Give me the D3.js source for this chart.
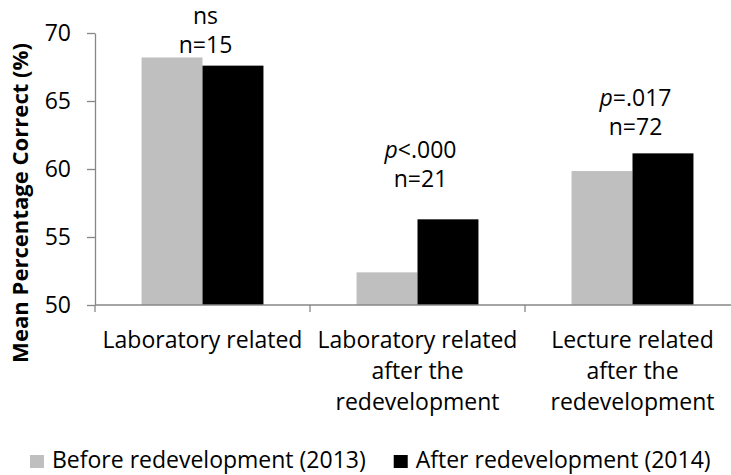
<!DOCTYPE html>
<html>
<head>
<meta charset="utf-8">
<script src="https://cdn.jsdelivr.net/npm/d3@7"></script>
<style>
  body { margin: 0; background: #fff; }
  svg { display: block; font-family: "Open Sans", sans-serif; }
  .axis path, .axis line { stroke: #878787; stroke-width: 1.3; }
  .axis text { font-size: 23px; fill: #000; font-family: "Open Sans", sans-serif; }
  .lbl { font-size: 23px; fill: #000; }
</style>
</head>
<body>
<svg id="chart" width="731" height="475"></svg>
<script>
// chart data
var categories = [
    ["Laboratory related"],
    ["Laboratory related", "after the", "redevelopment"],
    ["Lecture related", "after the", "redevelopment"]
];
var seriesNames = ["Before redevelopment (2013)", "After redevelopment (2014)"];
var before2013 = [68.2, 52.4, 59.85];
var after2014 = [67.6, 56.3, 61.15];
var pLabels = ["ns", "<.000", "=.017"];
var nLabels = ["n=15", "n=21", "n=72"];
var annotAt = [69.1, 59.3, 63.1];   // value where the n= line sits
var yTicks = [50, 55, 60, 65, 70];
var colors = ["#bfbfbf", "#000000"];

var svg = d3.select('#chart');
var margin = {left: 95, top: 33, bottom: 305, right: 740};

var y = d3.scaleLinear().domain([50, 70]).range([margin.bottom, margin.top]);
var gap = 0.433;
var x = d3.scaleBand()
    .domain(d3.range(categories.length))
    .range([margin.left, margin.right])
    .paddingInner(gap)
    .paddingOuter(gap / 2);
var xs = d3.scaleBand().domain([0, 1]).range([0, x.bandwidth()]);

// y axis
svg.append('g')
    .attr('class', 'axis')
    .attr('transform', 'translate(' + margin.left + ',0)')
    .call(d3.axisLeft(y).tickValues(yTicks).tickSize(8).tickPadding(16).tickSizeOuter(0));

// bars
var groups = svg.selectAll('g.grp')
    .data(categories)
    .enter()
    .append('g')
    .attr('class', 'grp')
    .attr('transform', function(d, i) { return 'translate(' + x(i) + ',0)'; });

groups.selectAll('rect')
    .data(function(d, i) { return [before2013[i], after2014[i]]; })
    .enter()
    .append('rect')
    .attr('x', function(d, j) { return xs(j); })
    .attr('y', function(d) { return y(d); })
    .attr('width', xs.bandwidth())
    .attr('height', function(d) { return y(50) - y(d); })
    .attr('fill', function(d, j) { return colors[j]; });

// x axis line + ticks at category boundaries
var xAxis = svg.append('g').attr('class', 'axis');
xAxis.append('line')
    .attr('x1', margin.left).attr('x2', margin.right)
    .attr('y1', y(50)).attr('y2', y(50));
xAxis.selectAll('line.tk')
    .data(d3.range(categories.length + 1))
    .enter()
    .append('line')
    .attr('class', 'tk')
    .attr('x1', function(i) { return margin.left + i * x.step(); })
    .attr('x2', function(i) { return margin.left + i * x.step(); })
    .attr('y1', y(50)).attr('y2', y(50) + 7);

// category labels
var catText = svg.selectAll('text.cat')
    .data(categories)
    .enter()
    .append('text')
    .attr('class', 'lbl cat')
    .attr('text-anchor', 'middle');
catText.selectAll('tspan')
    .data(function(d, i) { return d.map(function(s) { return {s: s, i: i}; }); })
    .enter()
    .append('tspan')
    .attr('x', function(d) { return x(d.i) + x.bandwidth() / 2; })
    .attr('y', function(d, k) { return 348 + k * 31; })
    .text(function(d) { return d.s; });

// significance annotations
categories.forEach(function(c, i) {
    var cx = x(i) + x.bandwidth() / 2 + 3;
    var ny = y(annotAt[i]) + 8;
    var t = svg.append('text').attr('class', 'lbl').attr('text-anchor', 'middle')
        .attr('x', cx).attr('y', ny - 29);
    if (pLabels[i] == 'ns') {
        t.text('ns');
    } else {
        t.append('tspan').style('font-style', 'italic').text('p');
        t.append('tspan').text(pLabels[i]);
    }
    svg.append('text').attr('class', 'lbl').attr('text-anchor', 'middle')
        .attr('x', cx).attr('y', ny).text(nLabels[i]);
});

// y title, sized to span about 320px like the original
var title = svg.append('text')
    .attr('transform', 'translate(28,203) rotate(-90)')
    .attr('text-anchor', 'middle')
    .style('font-weight', 'bold')
    .style('font-size', '20px')
    .text('Mean Percentage Correct (%)');
var tl = title.node().getComputedTextLength();
title.style('font-size', (20 * 320 / tl) + 'px');

// legend
var items = svg.append('g').selectAll('g')
    .data(seriesNames)
    .enter()
    .append('g');
items.append('rect')
    .attr('width', 14).attr('height', 13)
    .attr('y', 455)
    .attr('fill', function(d, j) { return colors[j]; });
items.append('text')
    .attr('class', 'lbl')
    .attr('x', 22)
    .attr('y', 468)
    .text(function(d) { return d; });
var widths = [];
items.each(function() { widths.push(this.getBBox().width); });
items.attr('transform', function(d, j) {
    var p = 30 + d3.sum(widths.slice(0, j)) + 28 * j;
    return 'translate(' + p + ',0)';
});
</script>
</body>
</html>
